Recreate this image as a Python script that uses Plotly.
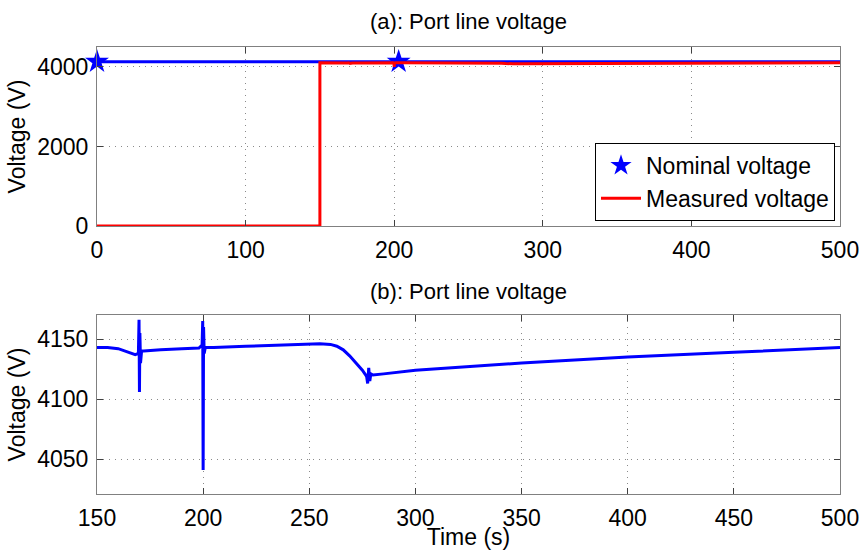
import plotly.graph_objects as go

# ---- data ----
t_meas = [150, 155, 160, 163, 166, 168, 169.5, 169.8, 170.0, 170.2, 170.5, 171, 172, 175, 180, 190,
          198, 199.5, 199.8, 200.0, 200.2, 200.5, 201, 205, 220, 240, 255, 260, 263, 266, 269, 272,
          275, 277, 277.5, 278, 278.5, 279, 280, 285, 300, 350, 400, 450, 500]
v_meas = [4143, 4143, 4142, 4140, 4138, 4137, 4138, 4166, 4106, 4155, 4130, 4140, 4140, 4140.5, 4141, 4142,
          4142.5, 4145, 4165, 4041, 4160, 4138, 4143, 4143, 4144, 4145.5, 4146, 4145.5, 4144, 4141, 4136, 4130,
          4124, 4119, 4113, 4126, 4115, 4121, 4120, 4121, 4124, 4130, 4135, 4139, 4143]
t_pre = [0, 150]
v_pre = [0, 0]
t_nom = [0, 500]
v_nom = [4130, 4130]
t_star = [0, 203]
v_star = [4130, 4130]

top_xticks = [0, 100, 200, 300, 400, 500]
top_yticks = [0, 2000, 4000]
bot_xticks = [150, 200, 250, 300, 350, 400, 450, 500]
bot_yticks = [4050, 4100, 4150]

BLUE = "#0000ff"
RED = "#ff0000"
FONT = "Liberation Sans, Arial, sans-serif"
W, H = 863, 550

fig = go.Figure()
fig.add_trace(go.Scatter(x=t_nom, y=v_nom, mode="lines", line=dict(color=BLUE, width=3),
                         showlegend=False, xaxis="x", yaxis="y"))
fig.add_trace(go.Scatter(x=t_star, y=v_star, mode="markers", name="Nominal voltage", cliponaxis=False,
                         marker=dict(symbol="star", size=18, color=BLUE, line=dict(width=0)),
                         xaxis="x", yaxis="y"))
fig.add_trace(go.Scatter(x=t_pre + t_meas, y=v_pre + [v - 40 for v in v_meas], mode="lines",
                         name="Measured voltage", line=dict(color=RED, width=3), xaxis="x", yaxis="y"))
fig.add_trace(go.Scatter(x=t_meas, y=v_meas, mode="lines", line=dict(color=BLUE, width=3),
                         showlegend=False, xaxis="x2", yaxis="y2"))

axis_common = dict(showline=True, linecolor="#808080", linewidth=1, mirror="allticks",
                   ticks="inside", ticklen=6, tickcolor="#404040", tickwidth=1,
                   showgrid=True, gridcolor="#8a8a8a", griddash="1px,5px", gridwidth=1,
                   zeroline=False, tickfont=dict(size=23, color="black", family=FONT),
                   automargin=False, ticklabelstandoff=3)

xd = [97 / W, 840 / W]
fig.update_layout(
    width=W, height=H,
    margin=dict(l=0, r=0, t=0, b=0),
    paper_bgcolor="white", plot_bgcolor="white",
    font=dict(family=FONT, color="black"),
    xaxis=dict(domain=xd, range=[0, 500], tickvals=top_xticks, anchor="y", **axis_common),
    yaxis=dict(domain=[1 - 226 / H, 1 - 47 / H], range=[0, 4500], tickvals=top_yticks, anchor="x",
               title=dict(text="Voltage (V)", font=dict(size=23), standoff=5), **axis_common),
    xaxis2=dict(domain=xd, range=[150, 500], tickvals=bot_xticks, anchor="y2",
                title=dict(text="Time (s)", font=dict(size=23), standoff=0), **axis_common),
    yaxis2=dict(domain=[1 - 494 / H, 1 - 315 / H], range=[4021, 4170], tickvals=bot_yticks, anchor="x2",
                title=dict(text="Voltage (V)", font=dict(size=23), standoff=5), **axis_common),
    legend=dict(x=835 / W, xanchor="right", y=1 - 221 / H, yanchor="bottom",
                bgcolor="white", bordercolor="black", borderwidth=1, itemwidth=40,
                font=dict(size=23, color="black"), tracegroupgap=0),
    annotations=[
        dict(text="(a): Port line voltage", x=0.5 * (xd[0] + xd[1]), y=1 - 21 / H, xref="paper", yref="paper",
             showarrow=False, font=dict(size=22), yanchor="middle"),
        dict(text="(b): Port line voltage", x=0.5 * (xd[0] + xd[1]), y=1 - 291 / H, xref="paper", yref="paper",
             showarrow=False, font=dict(size=22), yanchor="middle"),
    ],
)

fig.write_html("out.html", config={"displayModeBar": False},
               post_script="document.body.style.margin='0';")
